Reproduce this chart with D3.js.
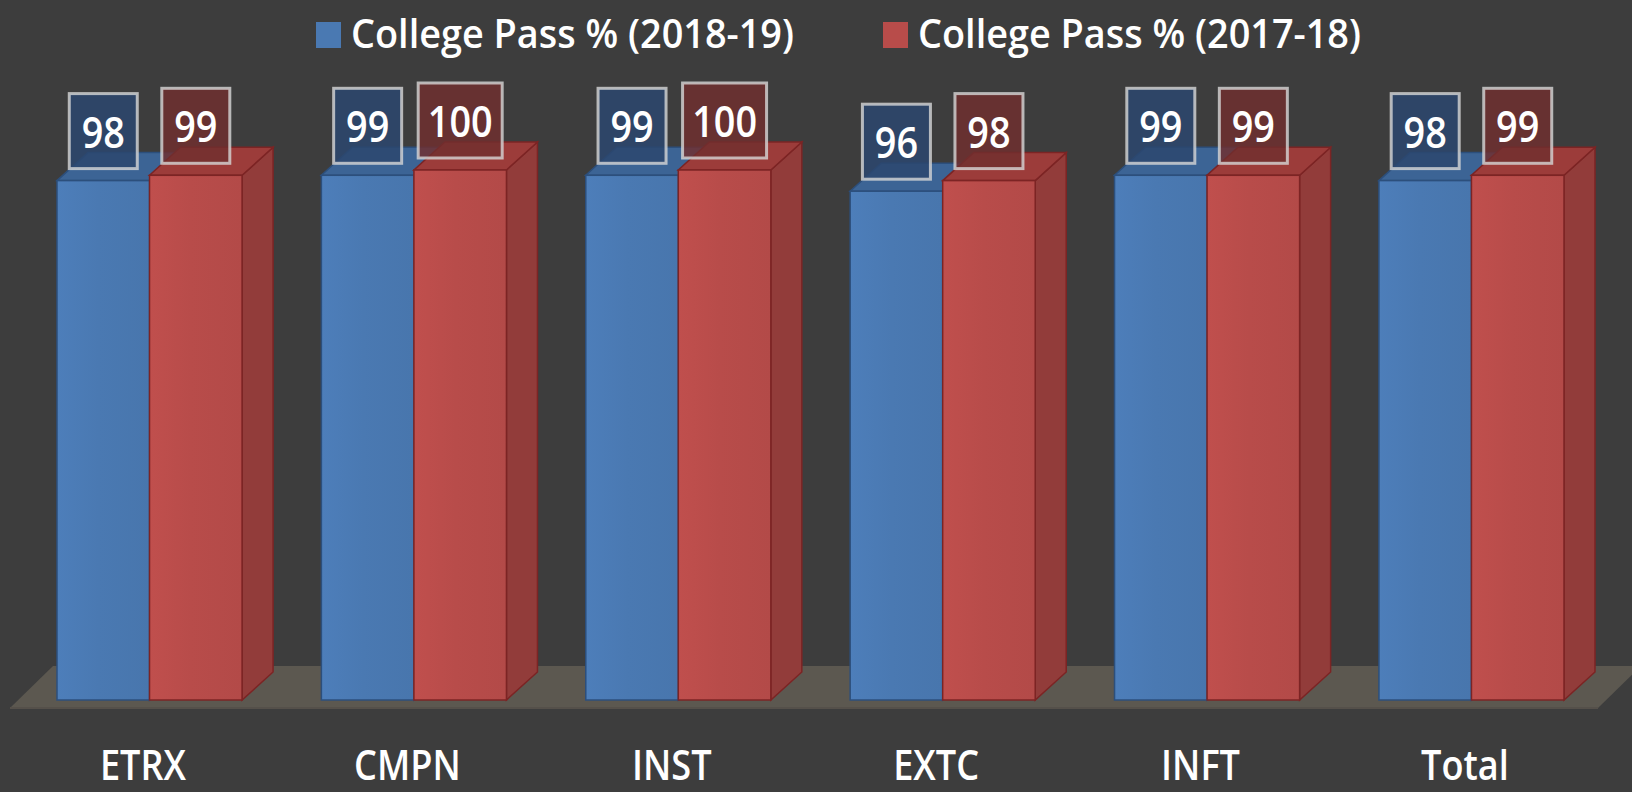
<!DOCTYPE html>
<html>
<head>
<meta charset="utf-8">
<script src="https://cdn.jsdelivr.net/npm/d3@7"></script>
<style>
  html, body { margin: 0; padding: 0; background: #3d3d3d; }
  svg { display: block; }
  text { font-family: "Open Sans", "Noto Sans", sans-serif; font-weight: 600; fill: #ffffff; }
</style>
</head>
<body>
<svg></svg>
<script>
// data
const categories = ["ETRX", "CMPN", "INST", "EXTC", "INFT", "Total"];
const pass2019 = [98, 99, 99, 96, 99, 98];
const pass2018 = [99, 100, 100, 98, 99, 99];
const seriesNames = ["College Pass % (2018-19)", "College Pass % (2017-18)"];

const width = 1632, height = 792;
const svg = d3.select('svg').attr('width', width).attr('height', height);

svg.append('rect').attr('width', width).attr('height', height).attr('fill', '#3d3d3d');

const colors = {
  [seriesNames[0]]: { front: '#4a79b2', top: '#3c6495', side: '#3a5f8c', edge: '#2c4f7c', box: 'rgba(44,70,110,0.85)' },
  [seriesNames[1]]: { front: '#b84c4a', top: '#9c3c3a', side: '#923c3a', edge: '#7c2424', box: 'rgba(112,46,46,0.82)' }
};

const depthX = 31, depthY = -28;
const squeeze = 0.86;

const x = d3.scaleBand()
    .domain(categories)
    .range([57, 1564])
    .paddingInner(0.30)
    .paddingOuter(0);

const xSub = d3.scaleBand()
    .domain(seriesNames)
    .range([0, x.bandwidth()]);

const y = d3.scaleLinear()
    .domain([0, 100])
    .range([700, 170]);

const rows = categories.map((c, i) => ({
  category: c,
  values: [
    { series: seriesNames[0], value: pass2019[i] },
    { series: seriesNames[1], value: pass2018[i] }
  ]
}));

// floor
const floorFront = y(0) + 8, floorBack = y(0) - 34;
svg.append('polygon')
    .attr('points', [[10, floorFront], [1598, floorFront], [1641, floorBack], [53, floorBack]].join(' '))
    .attr('fill', '#5c5850');
svg.append('line')
    .attr('x1', 10).attr('x2', 1598).attr('y1', floorFront).attr('y2', floorFront)
    .attr('stroke', '#55504a').attr('stroke-width', 2);

const defs = svg.append('defs');
seriesNames.forEach((s, i) => {
  const g = defs.append('linearGradient').attr('id', 'front' + i)
      .attr('x1', '0%').attr('x2', '100%');
  const base = d3.color(colors[s].front);
  g.append('stop').attr('offset', '0%').attr('stop-color', base.brighter(0.12));
  g.append('stop').attr('offset', '45%').attr('stop-color', base);
  g.append('stop').attr('offset', '100%').attr('stop-color', base.darker(0.08));
});

const groups = svg.selectAll('.group').data(rows).enter().append('g')
    .attr('class', 'group')
    .attr('transform', d => `translate(${x(d.category)},0)`);

const bars = groups.selectAll('.bar').data(d => d.values).enter().append('g')
    .attr('class', 'bar');

bars.each(function(d, i) {
  const g = d3.select(this);
  const x0 = xSub(d.series), w = xSub.bandwidth();
  const yt = y(d.value), yb = y(0);
  const c = colors[d.series];
  g.append('polygon')
      .attr('points', [[x0 + w, yt], [x0 + w + depthX, yt + depthY], [x0 + w + depthX, yb + depthY], [x0 + w, yb]].join(' '))
      .attr('fill', c.side).attr('stroke', c.edge).attr('stroke-width', 1.5);
  g.append('polygon')
      .attr('points', [[x0, yt], [x0 + w, yt], [x0 + w + depthX, yt + depthY], [x0 + depthX, yt + depthY]].join(' '))
      .attr('fill', c.top).attr('stroke', c.edge).attr('stroke-width', 1.5);
  g.append('rect')
      .attr('x', x0).attr('y', yt).attr('width', w).attr('height', yb - yt)
      .attr('fill', `url(#front${i})`).attr('stroke', c.edge).attr('stroke-width', 1.5);
});

// value boxes
const labels = groups.selectAll('.value').data(d => d.values).enter().append('g')
    .attr('class', 'value')
    .attr('transform', d => `translate(${xSub(d.series) + xSub.bandwidth() / 2},${y(d.value) - 87})`);

labels.append('rect')
    .attr('x', d => String(d.value).length > 2 ? -42 : -34)
    .attr('width', d => String(d.value).length > 2 ? 84 : 68)
    .attr('y', 0).attr('height', 75)
    .attr('fill', d => colors[d.series].box)
    .attr('stroke', 'rgba(215,215,215,0.8)').attr('stroke-width', 3);

labels.append('text')
    .attr('transform', `translate(0,54) scale(${squeeze},1)`)
    .attr('text-anchor', 'middle')
    .attr('font-size', 44)
    .text(d => d.value);

// category labels
svg.selectAll('.cat').data(categories).enter().append('text')
    .attr('class', 'cat')
    .attr('transform', d => `translate(${x(d) + 86},780) scale(${squeeze},1)`)
    .attr('text-anchor', 'middle')
    .attr('font-size', 42)
    .text(d => d);

// legend
const legendX = [316, 883];
const legend = svg.selectAll('.legend').data(seriesNames).enter().append('g')
    .attr('class', 'legend')
    .attr('transform', (d, i) => `translate(${legendX[i]},0)`);
legend.append('rect')
    .attr('x', 0).attr('y', 22).attr('width', 25).attr('height', 26)
    .attr('fill', d => colors[d].front);
legend.append('text')
    .attr('x', 35).attr('y', 48)
    .attr('font-size', 40)
    .attr('textLength', 443)
    .attr('lengthAdjust', 'spacingAndGlyphs')
    .text(d => d);
</script>
</body>
</html>
